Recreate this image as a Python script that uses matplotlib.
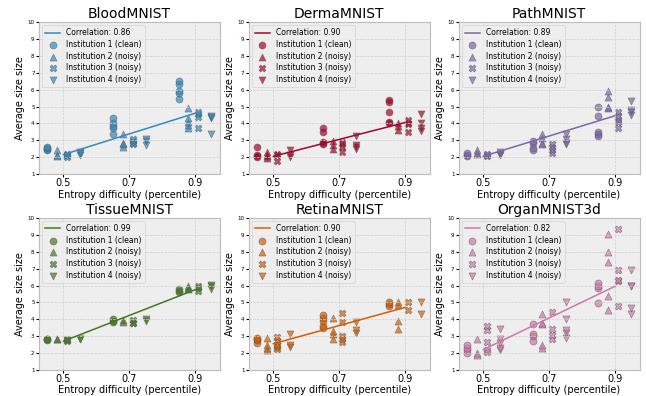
import numpy as np
import matplotlib
matplotlib.use("Agg")
import matplotlib.pyplot as plt

plt.style.use("bmh")
plt.rcParams["grid.color"] = "#cfcfcf"

# difficulty levels (percentile) and per-institution x offsets
levels = [0.5, 0.7, 0.9]
offsets = [-0.05, -0.02, 0.01, 0.05]
inst_labels = ["Institution 1 (clean)", "Institution 2 (noisy)",
               "Institution 3 (noisy)", "Institution 4 (noisy)"]
markers = ["o", "^", "X", "v"]

titles = ["BloodMNIST", "DermaMNIST", "PathMNIST",
          "TissueMNIST", "RetinaMNIST", "OrganMNIST3d"]
colors = ["#348ABD", "#A60628", "#7A68A6", "#467821", "#D55E00", "#CC79A7"]
correlations = ["0.86", "0.90", "0.89", "0.99", "0.90", "0.82"]
# fitted line read at x=0.5 and x=0.9
fit_start = [2.15, 2.05, 2.05, 2.7, 2.55, 2.2]
fit_end = [4.6, 4.05, 4.45, 5.75, 4.7, 5.95]

# average set size per institution, one list per difficulty level
blood_i1 = [[2.45, 2.5, 2.55, 2.6], [3.4, 3.7, 3.85, 4.0, 4.3], [5.45, 5.8, 5.9, 6.35, 6.5]]
blood_i2 = [[2.05, 2.1, 2.4], [2.6, 2.8, 2.85, 3.35], [3.7, 3.9, 4.1, 4.3, 4.9]]
blood_i3 = [[2.0, 2.1, 2.15, 2.2], [2.8, 2.85, 2.95, 3.1], [3.75, 4.4, 4.55, 4.7]]
blood_i4 = [[2.15, 2.25, 2.3], [2.7, 2.95, 3.05], [3.4, 4.3, 4.35, 4.45]]

derma_i1 = [[2.0, 2.05, 2.1, 2.6], [2.75, 2.85, 2.9, 3.5, 3.7], [4.05, 4.1, 4.65, 5.25, 5.4]]
derma_i2 = [[1.95, 2.05, 2.15, 2.3], [2.5, 2.7, 2.95], [3.6, 3.85, 4.0]]
derma_i3 = [[1.8, 2.15, 2.2], [2.3, 2.6, 2.75, 2.9], [3.5, 3.95, 4.05, 4.2]]
derma_i4 = [[2.0, 2.1, 2.4], [2.5, 2.6, 2.7, 3.25], [3.55, 3.7, 4.0, 4.55]]

path_i1 = [[2.05, 2.15, 2.25], [2.45, 2.55, 2.85, 2.95], [3.25, 3.35, 3.5, 4.45, 4.95]]
path_i2 = [[2.2, 2.25, 2.4], [2.75, 2.85, 3.15, 3.35], [4.9, 5.0, 5.55, 5.9]]
path_i3 = [[2.05, 2.1, 2.2], [2.25, 2.4, 2.6, 2.8], [3.75, 4.1, 4.2, 4.45, 4.65]]
path_i4 = [[2.1, 2.2, 2.3], [2.75, 2.85, 3.1, 3.4], [4.5, 4.65, 4.8, 5.3]]

tissue_i1 = [[2.75, 2.8, 2.85], [3.85, 3.9, 4.0], [5.6, 5.7, 5.8]]
tissue_i2 = [[2.8, 2.8], [3.85, 3.95], [5.8, 5.85, 6.0]]
tissue_i3 = [[2.7, 2.75, 2.8], [3.75, 3.8, 3.95], [5.7, 5.85, 6.0]]
tissue_i4 = [[2.8, 2.85], [3.9, 4.0], [5.8, 5.95, 6.05]]

retina_i1 = [[2.6, 2.75, 2.85, 2.9], [3.5, 3.6, 3.9, 4.1, 4.25], [4.8, 4.9, 5.0]]
retina_i2 = [[2.2, 2.3, 2.5, 2.9], [2.8, 3.1, 3.3, 4.05], [3.45, 3.9, 4.85, 5.0]]
retina_i3 = [[2.25, 2.35, 2.5, 2.7, 2.95], [2.65, 2.85, 3.0, 3.85, 4.35], [4.55, 5.0]]
retina_i4 = [[2.35, 2.5, 3.1], [3.2, 3.35, 3.85], [4.3, 5.05]]

organ_i1 = [[2.0, 2.15, 2.3, 2.45], [2.7, 3.0, 3.1, 3.7], [4.95, 5.85, 5.95, 6.15]]
organ_i2 = [[1.9, 2.0, 2.8], [2.3, 2.5, 3.7, 3.8, 4.3], [4.55, 5.4, 7.4, 8.0, 9.05]]
organ_i3 = [[2.05, 2.15, 2.65, 3.35, 3.6], [2.85, 3.05, 3.4, 4.45], [4.8, 6.25, 6.35, 6.9, 9.35]]
organ_i4 = [[2.15, 2.3, 2.6, 2.85, 3.45], [2.9, 3.2, 3.35, 4.0, 5.0], [4.3, 4.65, 5.95, 6.0, 6.9]]

datasets = [
    [blood_i1, blood_i2, blood_i3, blood_i4],
    [derma_i1, derma_i2, derma_i3, derma_i4],
    [path_i1, path_i2, path_i3, path_i4],
    [tissue_i1, tissue_i2, tissue_i3, tissue_i4],
    [retina_i1, retina_i2, retina_i3, retina_i4],
    [organ_i1, organ_i2, organ_i3, organ_i4],
]

fig, axes = plt.subplots(2, 3, figsize=(6.46, 3.96), dpi=100)
fig.subplots_adjust(left=0.06, right=0.99, top=0.944, bottom=0.066,
                    wspace=0.16, hspace=0.29)

for k, ax in enumerate(axes.flat):
    c = colors[k]
    ax.plot([levels[0], levels[-1]], [fit_start[k], fit_end[k]], color=c,
            lw=1.1, label="Correlation: " + correlations[k])
    for j, inst in enumerate(datasets[k]):
        xs, ys = [], []
        for lv, vals in zip(levels, inst):
            xs += [lv + offsets[j]] * len(vals)
            ys += vals
        ax.scatter(xs, ys, s=26, marker=markers[j], color=c, alpha=0.7,
                   edgecolors="#555555", linewidths=0.4, label=inst_labels[j])
    ax.set_title(titles[k], fontsize=10, pad=3)
    ax.set_ylim(1, 10)
    ax.set_yticks(range(1, 11))
    ax.set_xticks([0.5, 0.7, 0.9])
    ax.tick_params(axis="y", labelsize=4, direction="out", length=2, pad=1)
    ax.tick_params(axis="x", labelsize=7, direction="out", length=2, pad=1)
    ax.set_xlabel("Entropy difficulty (percentile)", fontsize=7, labelpad=1)
    ax.set_ylabel("Average size size", fontsize=7, labelpad=2)
    ax.legend(loc="upper left", fontsize=5.5, borderpad=0.4, labelspacing=0.35,
              handletextpad=0.8, borderaxespad=0.4)

fig.savefig("out.png", dpi=100)
